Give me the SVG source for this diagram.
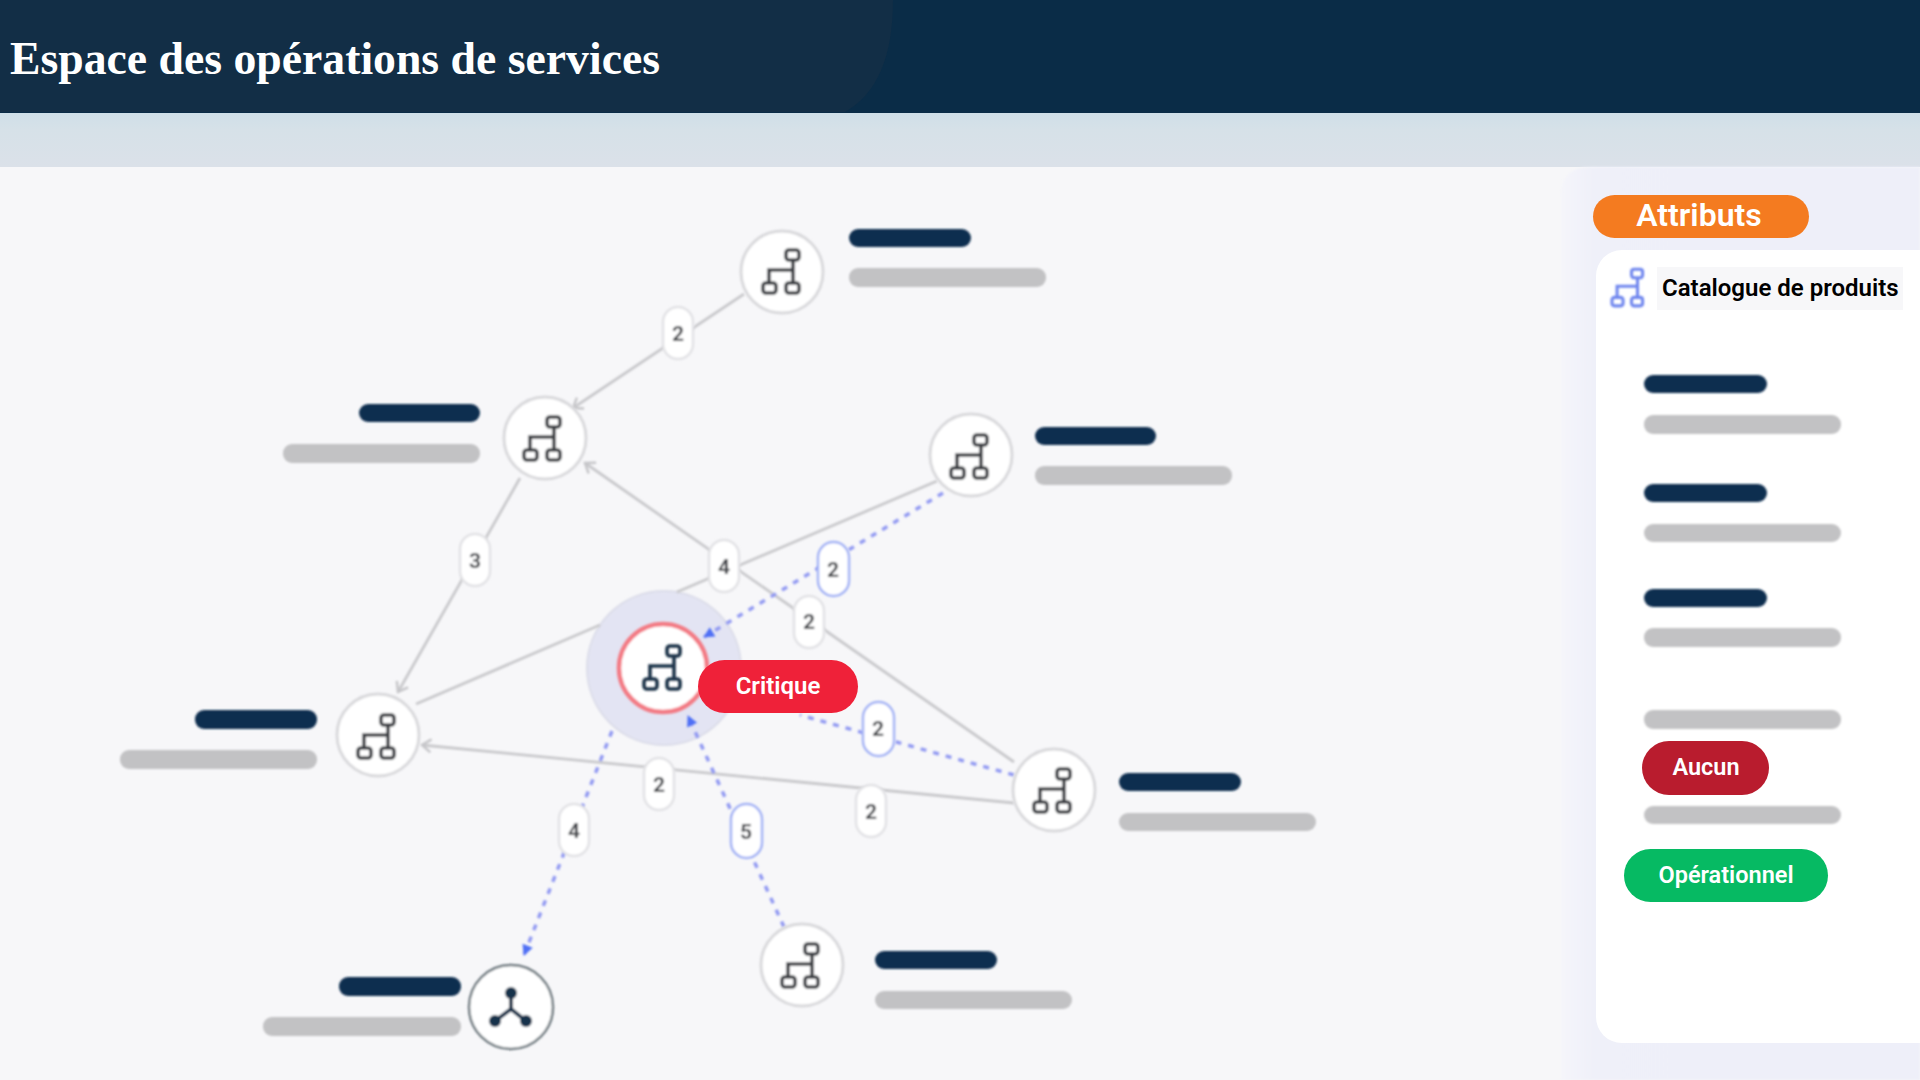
<svg xmlns="http://www.w3.org/2000/svg" xmlns:xlink="http://www.w3.org/1999/xlink" width="1920" height="1080" viewBox="0 0 1920 1080">
<style>
text{font-family:Roboto,"Liberation Sans",sans-serif}
.dark{fill:#0e2f50}.grey{fill:#c2c2c4}
.ring{fill:#fff;stroke:#d9d9dc;stroke-width:3}
.ic{fill:none;stroke-width:3.6}
.gl{stroke:#c9c9cc;stroke-width:2.8;fill:none}
.bl{stroke:#929af2;stroke-width:3.5;stroke-dasharray:6 7;fill:none}
.pg{fill:#fff;stroke:#e2e2e5;stroke-width:2.5}
.pb{fill:#fff;stroke:#a3b2f5;stroke-width:2.5}
.num{font-size:21px;font-weight:700;fill:#45474c;text-anchor:middle}
.pill{font-weight:600;fill:#fff;text-anchor:middle}
</style>
<defs>
<filter id="soft" x="-10%" y="-10%" width="120%" height="120%"><feGaussianBlur stdDeviation="0.9"/></filter>
<linearGradient id="band" x1="0" y1="0" x2="0" y2="1"><stop offset="0" stop-color="#cfdfe8"/><stop offset="0.3" stop-color="#d6e1e8"/><stop offset="1" stop-color="#dbe1e9"/></linearGradient>
<linearGradient id="side" x1="0" y1="0" x2="1" y2="0"><stop offset="0" stop-color="#f5f5fa"/><stop offset="0.1" stop-color="#eff0f9"/><stop offset="1" stop-color="#eeeff9"/></linearGradient>
<marker id="ga" markerUnits="userSpaceOnUse" markerWidth="18" markerHeight="18" refX="14" refY="9" orient="auto"><path d="M5 2.5L14 9L5 15.5" fill="none" stroke="#c6c6c9" stroke-width="2.5"/></marker>
<marker id="ba" markerUnits="userSpaceOnUse" markerWidth="14" markerHeight="14" refX="11" refY="7" orient="auto"><path d="M1 1.5L12 7L1 12.5Z" fill="#4f6ff5"/></marker>
<g id="org">
<rect x="3" y="-22" width="13" height="10" rx="3"/><rect x="-20" y="11" width="13" height="10" rx="3"/><rect x="3" y="11" width="13" height="10" rx="3"/>
<path d="M10-12V11M-14 11V-2H10"/>
</g>
</defs>
<rect width="1920" height="1080" fill="#f7f7f9"/>
<g id="header">
<rect width="1920" height="113" fill="#0a2c47"/>
<path d="M0 0H893Q893 85 845 112H0Z" fill="#122e46"/>
<rect y="113" width="1920" height="54" fill="url(#band)"/>
<text x="10" y="74" font-size="47" font-weight="700" fill="#fff" textLength="650" lengthAdjust="spacingAndGlyphs" style="font-family:'Liberation Serif',serif">Espace des opérations de services</text>
</g>
<g id="side-panel">
<path d="M1590 167H1920V1080H1561V196Q1561 167 1590 167Z" fill="url(#side)" filter="url(#soft)"/>
<rect x="1596" y="250" width="360" height="793" rx="26" fill="#fff"/>
<rect x="1657" y="267" width="246" height="43" fill="#f7f7f9"/>
<g class="ic" stroke="#6f86ee" filter="url(#soft)"><use href="#org" transform="translate(1629,288) scale(0.85)"/></g>
<text x="1662" y="296" font-size="24" font-weight="600" fill="#000">Catalogue de produits</text>
<g filter="url(#soft)">
<rect class="dark" x="1644" y="375" width="123" height="18" rx="9"/><rect class="grey" x="1644" y="415" width="197" height="19" rx="9"/>
<rect class="dark" x="1644" y="484" width="123" height="18" rx="9"/><rect class="grey" x="1644" y="524" width="197" height="18" rx="9"/>
<rect class="dark" x="1644" y="589" width="123" height="18" rx="9"/><rect class="grey" x="1644" y="628" width="197" height="19" rx="9"/>
<rect class="grey" x="1644" y="710" width="197" height="19" rx="9"/><rect class="grey" x="1644" y="806" width="197" height="18" rx="9"/>
</g>
</g>
<g id="attributs">
<rect x="1593" y="195" width="216" height="43" rx="21.5" fill="#f47b20"/>
<text class="pill" x="1699" y="226" font-size="32">Attributs</text>
</g>
<g id="aucun"><rect x="1642" y="741" width="127" height="54" rx="27" fill="#b91c2e"/><text class="pill" x="1706" y="775" font-size="23.5">Aucun</text></g>
<g id="operationnel"><rect x="1624" y="849" width="204" height="53" rx="26.5" fill="#06ba63"/><text class="pill" x="1726" y="883" font-size="23.5">Opérationnel</text></g>

<g id="node-center">
<circle cx="664" cy="668" r="77" fill="#e3e4f3" stroke="#dcdde9" stroke-width="2" filter="url(#soft)"/>
<circle cx="663" cy="668" r="44" fill="#fff" stroke="#f37b85" stroke-width="4.5" filter="url(#soft)"/>
<g class="ic" stroke="#1d3348" filter="url(#soft)"><use href="#org" transform="translate(664,668)"/></g>
</g>

<g id="connectors" filter="url(#soft)">
<line class="gl" x1="744" y1="294" x2="573" y2="408" marker-end="url(#ga)"/>
<line class="gl" x1="520" y1="478" x2="398" y2="692" marker-end="url(#ga)"/>
<line class="gl" x1="1014" y1="762" x2="585" y2="463" marker-end="url(#ga)"/>
<line class="gl" x1="937" y1="481" x2="677" y2="592"/>
<line class="gl" x1="600" y1="625" x2="416" y2="704"/>
<line class="gl" x1="1014" y1="803" x2="422" y2="745" marker-end="url(#ga)"/>
<line class="bl" x1="943" y1="493" x2="704" y2="637" marker-end="url(#ba)"/>
<line class="bl" x1="1014" y1="775" x2="800" y2="715"/>
<line class="bl" x1="784" y1="927" x2="688" y2="716" marker-end="url(#ba)"/>
<line class="bl" x1="612" y1="731" x2="524" y2="955" marker-end="url(#ba)"/>
</g>

<g id="edge-labels">
<g filter="url(#soft)">
<rect class="pg" x="663" y="307" width="30" height="52" rx="15"/>
<rect class="pg" x="460" y="534" width="30" height="52" rx="15"/>
<rect class="pg" x="709" y="540" width="30" height="52" rx="15"/>
<rect class="pg" x="794" y="596" width="30" height="52" rx="15"/>
<rect class="pg" x="644" y="758" width="30" height="52" rx="15"/>
<rect class="pg" x="856" y="785" width="30" height="52" rx="15"/>
<rect class="pg" x="559" y="804" width="30" height="52" rx="15"/>
<rect class="pb" x="818" y="542" width="31" height="54" rx="15.5"/>
<rect class="pb" x="863" y="702" width="31" height="54" rx="15.5"/>
<rect class="pb" x="731" y="804" width="31" height="54" rx="15.5"/>
<text class="num" x="678" y="341">2</text>
<text class="num" x="475" y="568">3</text>
<text class="num" x="724" y="574">4</text>
<text class="num" x="809" y="629">2</text>
<text class="num" x="659" y="792">2</text>
<text class="num" x="871" y="819">2</text>
<text class="num" x="574" y="838">4</text>
<text class="num" x="833" y="577">2</text>
<text class="num" x="878" y="736">2</text>
<text class="num" x="746" y="839">5</text>
</g>
</g>
<g id="critique"><rect x="698" y="660" width="160" height="53" rx="26.5" fill="#ef2139"/><text class="pill" x="778" y="694" font-size="24">Critique</text></g>

<g id="node-top"><g filter="url(#soft)"><circle class="ring" cx="782" cy="272" r="41"/><g class="ic" stroke="#3c3f44"><use href="#org" transform="translate(783,272)"/></g><rect class="dark" x="849" y="229" width="122" height="18" rx="9"/><rect class="grey" x="849" y="268" width="197" height="19" rx="9"/></g></g>
<g id="node-left-up"><g filter="url(#soft)"><circle class="ring" cx="545" cy="438" r="41"/><g class="ic" stroke="#3c3f44"><use href="#org" transform="translate(544,439)"/></g><rect class="dark" x="359" y="404" width="121" height="18" rx="9"/><rect class="grey" x="283" y="444" width="197" height="19" rx="9"/></g></g>
<g id="node-right-up"><g filter="url(#soft)"><circle class="ring" cx="971" cy="455" r="41"/><g class="ic" stroke="#3c3f44"><use href="#org" transform="translate(971,457)"/></g><rect class="dark" x="1035" y="427" width="121" height="18" rx="9"/><rect class="grey" x="1035" y="466" width="197" height="19" rx="9"/></g></g>
<g id="node-left"><g filter="url(#soft)"><circle class="ring" cx="378" cy="735" r="41"/><g class="ic" stroke="#3c3f44"><use href="#org" transform="translate(378,737)"/></g><rect class="dark" x="195" y="710" width="122" height="19" rx="9"/><rect class="grey" x="120" y="750" width="197" height="19" rx="9"/></g></g>
<g id="node-right"><g filter="url(#soft)"><circle class="ring" cx="1054" cy="790" r="41"/><g class="ic" stroke="#3c3f44"><use href="#org" transform="translate(1054,791)"/></g><rect class="dark" x="1119" y="773" width="122" height="18" rx="9"/><rect class="grey" x="1119" y="813" width="197" height="18" rx="9"/></g></g>
<g id="node-bottom"><g filter="url(#soft)"><circle class="ring" cx="802" cy="965" r="41"/><g class="ic" stroke="#3c3f44"><use href="#org" transform="translate(802,966)"/></g><rect class="dark" x="875" y="951" width="122" height="18" rx="9"/><rect class="grey" x="875" y="991" width="197" height="18" rx="9"/></g></g>
<g id="node-hub"><g filter="url(#soft)"><circle cx="511" cy="1007" r="42" fill="#fff" stroke="#6f7a80" stroke-width="2.5"/>
<path d="M511 993V1009L495 1021M511 1009L526 1021" fill="none" stroke="#16324c" stroke-width="4"/>
<circle cx="511" cy="993" r="6" fill="#16324c"/><circle cx="495" cy="1021" r="6" fill="#16324c"/><circle cx="526" cy="1021" r="6" fill="#16324c"/>
<rect class="dark" x="339" y="977" width="122" height="19" rx="9"/><rect class="grey" x="263" y="1017" width="198" height="19" rx="9"/></g></g>
</svg>
